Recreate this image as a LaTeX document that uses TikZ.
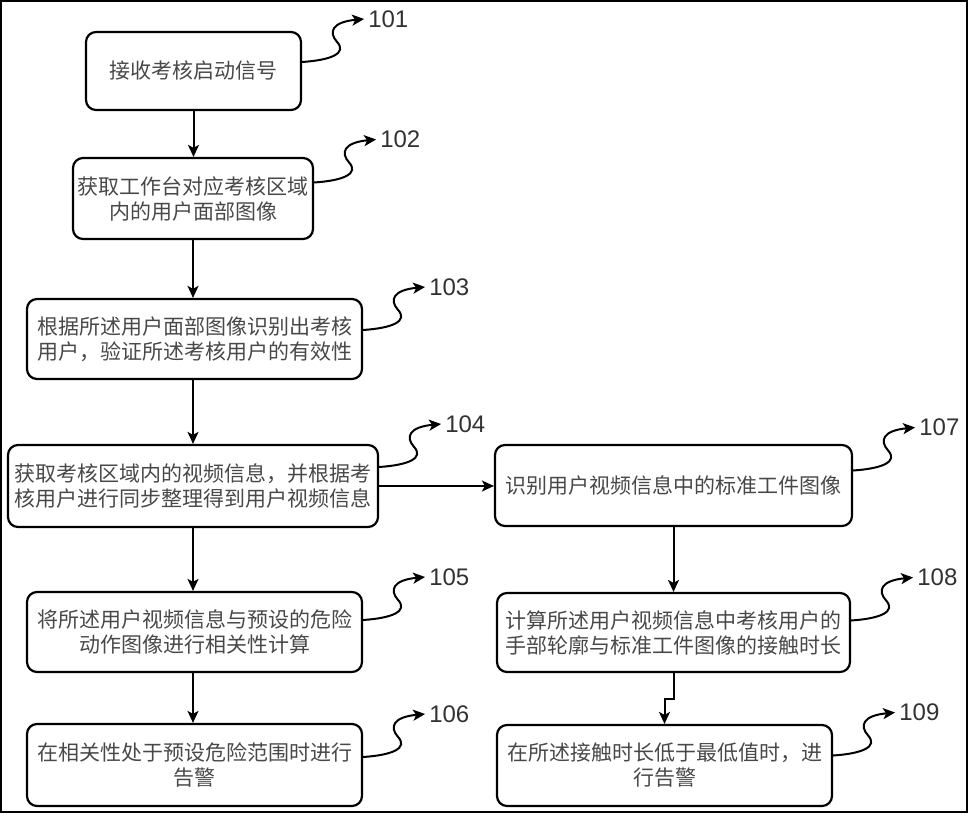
\documentclass[tikz,border=0pt]{standalone}
\usepackage{fontspec}
\newfontfamily\cjk{Noto Sans CJK SC}
\newfontfamily\lblfont{Liberation Sans}
\usetikzlibrary{arrows.meta,calc}
\definecolor{txtgray}{RGB}{72,72,72}
\definecolor{lblgray}{RGB}{50,50,50}
\newcommand\tagline[3]{%
  \coordinate (s#3) at ($(#1.east)+(0,#2)$);
  \node[lbl,anchor=west] (l#3) at ($(s#3)+(62,-43)$) {#3};
  \draw[squigline] (s#3) .. controls ($(s#3)+(30,-2)$) and ($(s#3)+(45,-9)$) .. ($(s#3)+(35,-20)$) .. controls ($(s#3)+(26,-30)$) and ($(s#3)+(30,-40)$) .. (l#3.west);
}
\begin{document}
\begin{tikzpicture}[x=1pt,y=-1pt,
  stepbox/.style={draw=black,line width=2.2pt,rounded corners=10pt,align=center,inner sep=0pt,
    font=\cjk\fontsize{21}{25}\selectfont,text=txtgray},
  arr/.style={draw=black,line width=2pt,-{Stealth[length=12pt,width=11pt,inset=3pt]}},
  squigline/.style={draw=black,line width=2pt,line cap=round,-{Stealth[length=12pt,width=11pt,inset=3pt]}},
  lbl/.style={font=\lblfont\fontsize{24}{28}\selectfont,text=lblgray,inner sep=4pt}]
\useasboundingbox (0,0) rectangle (968,813);
\draw[line width=2pt] (1,1) rectangle (967,812);

\node[stepbox,minimum width=215pt,minimum height=78pt] (n101) at (193.5,71) {接收考核启动信号};
\node[stepbox,minimum width=240pt,minimum height=81pt] (n102) at (193,198.5) {获取工作台对应考核区域\\内的用户面部图像};
\node[stepbox,minimum width=335pt,minimum height=80pt] (n103) at (194.5,339) {根据所述用户面部图像识别出考核\\用户，验证所述考核用户的有效性};
\node[stepbox,minimum width=370pt,minimum height=82pt] (n104) at (193,486) {获取考核区域内的视频信息，并根据考\\核用户进行同步整理得到用户视频信息};
\node[stepbox,minimum width=357pt,minimum height=81pt] (n107) at (673.5,485.5) {识别用户视频信息中的标准工件图像};
\node[stepbox,minimum width=335pt,minimum height=80pt] (n105) at (194.5,632) {将所述用户视频信息与预设的危险\\动作图像进行相关性计算};
\node[stepbox,minimum width=353pt,minimum height=79pt] (n108) at (673.5,632.5) {计算所述用户视频信息中考核用户的\\手部轮廓与标准工件图像的接触时长};
\node[stepbox,minimum width=335pt,minimum height=82pt] (n106) at (194.5,765) {在相关性处于预设危险范围时进行\\告警};
\node[stepbox,minimum width=335pt,minimum height=81pt] (n109) at (664.5,765.5) {在所述接触时长低于最低值时，进\\行告警};

\draw[arr] (n101.south) -- (n101.south |- n102.north);
\draw[arr] (n102.south) -- (n102.south |- n103.north);
\draw[arr] (n103.south -| n102.south) -- (n102.south |- n104.north);
\draw[arr] (n104.south) -- (n104.south |- n105.north);
\draw[arr] (n105.south -| n104.south) -- (n104.south |- n106.north);
\draw[arr] (n104.east) -- (n104.east -| n107.west);
\draw[arr] (n107.south) -- (n107.south |- n108.north);
\draw[arr] (n108.south) -- ++(0,26) -| (n109.north);

\tagline{n101}{-9}{101}
\tagline{n102}{-16}{102}
\tagline{n103}{-9}{103}
\tagline{n104}{-19}{104}
\tagline{n107}{-15}{107}
\tagline{n105}{-12}{105}
\tagline{n108}{-12}{108}
\tagline{n106}{-8}{106}
\tagline{n109}{-10}{109}
\end{tikzpicture}
\end{document}
